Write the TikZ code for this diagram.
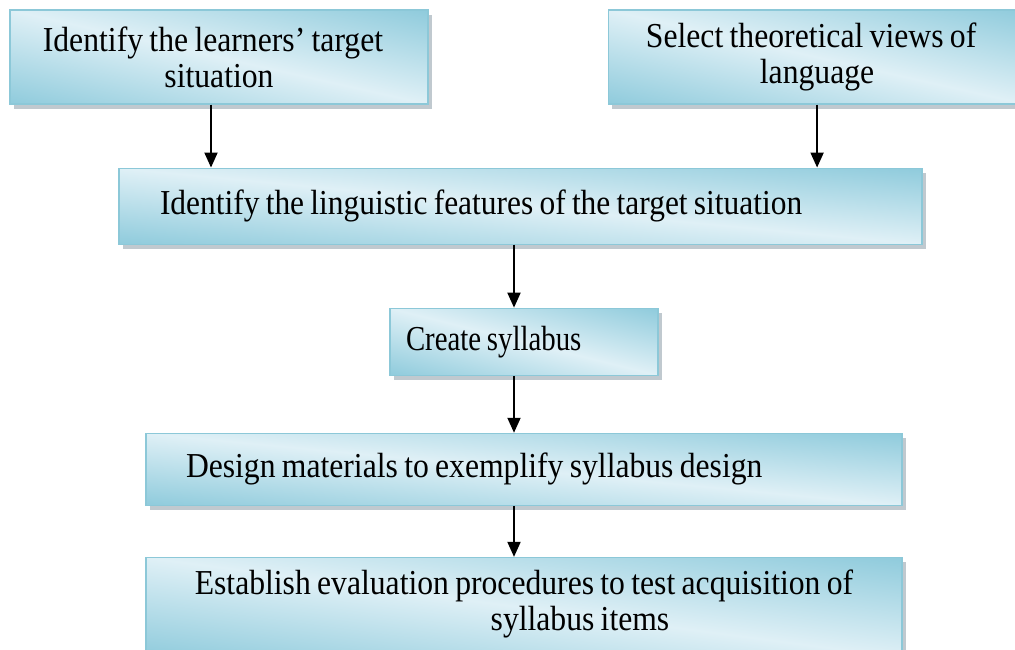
\documentclass[tikz,border=0pt]{standalone}
\usepackage{fontspec}
\setmainfont[WordSpace=0.8]{Liberation Serif}
\usepackage{tikz}
\usetikzlibrary{positioning, arrows.meta, shadows}

\definecolor{boxline}{RGB}{140,200,216}
\definecolor{boxshadow}{RGB}{192,201,207}

% light band along one diagonal, darker towards the other two corners
\pgfdeclarefunctionalshading{diagband}{\pgfpoint{-50bp}{-50bp}}{\pgfpoint{50bp}{50bp}}{}{
  add abs 50 div dup 1 gt {pop 1} if
  dup -0.314 mul 0.875 add exch
  dup -0.145 mul 0.941 add exch
  -0.102 mul 0.965 add
}

\begin{document}
\begin{tikzpicture}[
  x=1pt, y=1pt,
  box/.style={draw=boxline, line width=1.1pt, shade, shading=diagband,
              drop shadow={shadow xshift=4pt, shadow yshift=-5pt,
                           fill=boxshadow, opacity=1},
              inner ysep=0pt},
  squeeze/.style={font=\fontsize{35}{36}\selectfont
                  \addfontfeature{FakeStretch=#1}},
  arr/.style={-{Triangle[length=15pt, width=13pt]}, line width=1.9pt}
]
  \clip (0,0) rectangle (1015,-650);

  % Two starting points
  \node[box, squeeze=0.905, minimum width=418pt, minimum height=94pt,
        align=center] (learner) at (219,-57)
    {Identify the learners' target\hspace*{12pt}\\situation};
  \node[box, squeeze=0.905, minimum width=418pt, minimum height=94pt,
        align=center, right=179pt of learner] (theory)
    {Select theoretical views of\hspace*{12pt}\\language};

  % Linguistic features
  \node[box, squeeze=0.898, minimum height=76pt, text width=721pt,
        inner xsep=41pt, align=flush left,
        below=63pt of learner, xshift=301.5pt] (features)
    {Identify the linguistic features of the target situation};

  % Syllabus
  \node[box, squeeze=0.823, minimum height=67pt, text width=236pt,
        inner xsep=16pt, align=flush left,
        below=63pt of features, xshift=3.5pt] (syllabus)
    {Create syllabus};

  % Materials
  \node[box, squeeze=0.904, minimum height=72pt, text width=676pt,
        inner xsep=40pt, align=flush left, below=57pt of syllabus] (materials)
    {Design materials to exemplify syllabus design};

  % Evaluation
  \node[box, squeeze=0.904, minimum height=100pt, text width=716pt,
        inner xsep=20pt, text depth=50pt, align=flush center,
        below=51pt of materials] (evaluation)
    {Establish evaluation procedures to test acquisition of\\
     \hspace*{112pt}syllabus items};

  % Arrows
  \draw[arr] ([xshift=-8pt]learner.south)
    -- ([xshift=-8pt]learner.south |- features.north);
  \draw[arr] (theory.south) -- (theory.south |- features.north);
  \draw[arr] ([xshift=-10pt]syllabus.north |- features.south)
    -- ([xshift=-10pt]syllabus.north);
  \draw[arr] ([xshift=-10pt]syllabus.south)
    -- ([xshift=-10pt]syllabus.south |- materials.north);
  \draw[arr] ([xshift=-10pt]materials.south)
    -- ([xshift=-10pt]materials.south |- evaluation.north);
\end{tikzpicture}
\end{document}
